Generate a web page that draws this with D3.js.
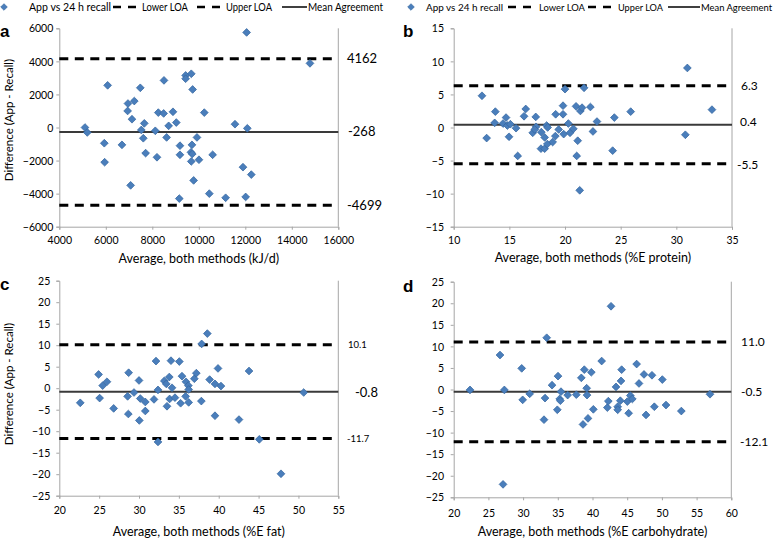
<!DOCTYPE html>
<html>
<head>
<meta charset="utf-8">
<script src="https://cdn.jsdelivr.net/npm/d3@7"></script>
<style>
  body { margin: 0; background: #fff; }
  svg { display: block; font-family: "Lato", "Open Sans", sans-serif; }
</style>
</head>
<body>
<svg id="chart" width="778" height="539"></svg>
<script>
// ---------- DATA ----------
// Panel a: energy (kJ/d)
const aX = [12057,14781,6079,7484,8502,9434,9434,9677,9735,6953,7226,6939,7126,8258,8488,8889,10236,7656,8703,9032,11556,12086,5104,5204,7527,8129,7613,8616,9921,5936,6695,9190,9706,7713,8201,9190,9663,9720,10595,5950,9677,10007,11900,12258,9778,7068,10452,9161,11154,12015];
const aY = [5750,3880,2550,2400,2850,3150,2950,3250,2300,1450,1600,1000,500,900,850,950,900,250,100,300,200,-50,0,-300,-150,-200,-650,-600,-600,-950,-1050,-1100,-1050,-1550,-1800,-1650,-1500,-1600,-1650,-2100,-2050,-1950,-2400,-2850,-3200,-3500,-4000,-4300,-4250,-4200];
const aLOA = [-4699, -268, 4162];   // lower, mean, upper
const aLabels = ["-4699", "-268", "4162"];
const aXTicks = [4000,6000,8000,10000,12000,14000,16000];
const aYTicks = [-6000,-4000,-2000,0,2000,4000,6000];

// Panel b: %E protein
const bX = [12.54,12.96,13.74,13.68,14.43,14.70,14.82,15.09,14.97,15.60,15.75,16.32,16.47,17.37,17.10,17.40,17.28,17.87,17.84,18.17,18.17,18.35,18.44,18.41,18.89,19.16,19.13,19.43,19.82,19.82,19.88,20.00,20.30,20.45,20.75,20.99,21.38,21.53,21.14,21.05,21.32,21.71,22.28,22.51,22.87,24.43,24.28,25.90,30.99,30.81,33.20];
const bY = [4.8,-1.6,2.4,0.7,0.6,1.5,0.3,0.5,-1.4,-0.1,-4.3,1.7,2.8,1.6,-0.8,0.1,-0.3,-0.7,-3.2,-3.2,-1.5,0.3,0.0,-2.5,-2.2,2.0,-1.3,-0.3,3.3,2.0,-1.0,5.8,0.6,-0.8,-0.2,3.2,2.5,3.0,-2.0,-4.3,-9.5,6.0,3.1,-0.6,0.9,1.5,-3.5,2.4,9.0,-1.1,2.7];
const bLOA = [-5.5, 0.4, 6.3];
const bLabels = ["-5.5", "0.4", "6.3"];
const bXTicks = [10,15,20,25,30,35];
const bYTicks = [-15,-10,-5,0,5,10,15];

// Panel c: %E fat
const cX = [22.63,24.93,25.06,25.44,25.98,26.82,28.70,28.57,28.66,29.37,30.00,30.16,30.04,30.79,30.79,31.88,32.13,32.38,32.38,33.17,33.42,33.80,33.51,33.84,34.01,34.14,34.51,35.06,35.39,35.22,35.89,35.85,36.19,36.23,36.23,36.94,37.19,37.82,37.86,38.57,38.86,39.53,39.53,39.91,40.28,42.54,43.80,45.09,47.81,50.66];
const cY = [-3.4,3.2,-2.3,0.6,1.5,-4.7,3.6,-1.9,-6.0,-1.0,1.8,-2.4,-7.5,-3.2,-5.3,-2.6,6.3,-0.4,-12.5,1.7,1.0,2.6,-4.2,-2.5,6.4,0.1,-2.2,6.2,2.8,-3.5,1.5,-1.9,0.6,-0.3,-3.3,2.2,3.5,-3.0,10.3,12.7,2.0,1.0,-6.4,4.6,0.5,-7.3,4.0,-11.9,-19.9,-1.0];
const cLOA = [-11.7, -0.8, 10.1];
const cLabels = ["-11.7", "-0.8", "10.1"];
const cXTicks = [20,25,30,35,40,45,50,55];
const cYTicks = [-25,-20,-15,-10,-5,0,5,10,15,20,25];

// Panel d: %E carbohydrate
const dX = [22.35,26.67,27.30,27.11,29.80,29.94,30.95,33.16,33.01,33.40,34.17,35.03,34.93,35.27,35.37,35.46,36.42,37.67,38.39,38.63,38.82,39.16,39.21,39.35,39.83,40.12,41.32,42.14,42.28,42.67,43.39,43.63,43.63,44.01,44.11,44.20,45.02,45.21,45.45,45.74,46.36,46.70,47.42,47.71,48.57,48.91,50.06,50.59,52.80,56.93];
const dY = [-0.1,8.0,-0.1,-22.0,4.9,-2.4,-1.0,-2.0,-7.0,12.0,1.0,3.1,-4.7,-2.2,-2.6,-0.5,-1.3,-1.2,2.7,-8.1,4.6,0.3,-1.3,-6.7,4.0,-4.6,6.6,-4.2,-2.7,19.3,0.6,-4.0,-4.7,-2.6,2.0,4.6,-2.8,-5.5,-1.4,-2.2,5.9,1.4,3.5,-5.9,3.3,-4.0,2.3,-3.6,-5.0,-1.1];
const dLOA = [-12.1, -0.5, 11.0];
const dLabels = ["-12.1", "-0.5", "11.0"];
const dXTicks = [20,25,30,35,40,45,50,55,60];
const dYTicks = [-25,-20,-15,-10,-5,0,5,10,15,20,25];

const legendItems = ["App vs 24 h recall", "Lower LOA", "Upper LOA", "Mean Agreement"];

// ---------- LAYOUT / STYLE ----------
const svg = d3.select("#chart");
const axisGray = "#a6a6a6";
const markerFill = "#4a7ebb";
const markerStroke = "#33659f";

const panels = [
  { id: "a", xs: aX, ys: aY, loa: aLOA, labels: aLabels, xt: aXTicks, yt: aYTicks,
    box: [59.3, 338.3, 28.3, 226.7], letter: [0, 37], yLabGap: 6,
    xTitle: "Average, both methods (kJ/d)", xTickY: 244, xTitleY: 263,
    yTitle: "Difference (App - Recall)", yTitleC: 120,
    lblX: [347, 348, 347], lblSize: [13, 13, 13], lblDy: [0, 0, 0] },
  { id: "b", xs: bX, ys: bY, loa: bLOA, labels: bLabels, xt: bXTicks, yt: bYTicks,
    box: [453.7, 732, 28.3, 226.7], letter: [403, 37], yLabGap: 9.7,
    xTitle: "Average, both methods (%E protein)", xTickY: 244, xTitleY: 262,
    yTitle: null,
    lblX: [737, 740, 741], lblSize: [12, 12, 12], lblDy: [1, -3, 0] },
  { id: "c", xs: cX, ys: cY, loa: cLOA, labels: cLabels, xt: cXTicks, yt: cYTicks,
    box: [59.3, 338.3, 280.7, 495.7], letter: [0, 290], yLabGap: 9,
    xTitle: "Average, both methods (%E fat)", xTickY: 514, xTitleY: 536,
    yTitle: "Difference  (App -  Recall)", yTitleC: 384,
    lblX: [347, 355, 348], lblSize: [9.5, 13, 9.5], lblDy: [0, 1, 0] },
  { id: "d", xs: dX, ys: dY, loa: dLOA, labels: dLabels, xt: dXTicks, yt: dYTicks,
    box: [453.7, 731.3, 281.7, 497.3], letter: [403, 292], yLabGap: 9.7,
    xTitle: "Average, both methods (%E carbohydrate)", xTickY: 517, xTitleY: 536,
    yTitle: null,
    lblX: [740, 741, 741], lblSize: [12, 12, 12], lblDy: [0, 0, 0] }
];

panels.forEach(p => {
  const [x0, x1, y0, y1] = p.box;
  const x = d3.scaleLinear().domain(d3.extent(p.xt)).range([x0, x1]);
  const y = d3.scaleLinear().domain(d3.extent(p.yt)).range([y1, y0]);
  const g = svg.append("g");

  // right border of plot area
  g.append("line").attr("x1", x1).attr("x2", x1).attr("y1", y0).attr("y2", y1)
    .attr("stroke", axisGray).attr("stroke-width", 1);

  // axes
  const xAxis = d3.axisBottom(x).tickValues(p.xt).tickSize(3).tickFormat(d3.format("d"));
  const yAxis = d3.axisLeft(y).tickValues(p.yt).tickSize(3).tickFormat(d3.format("d"));
  const gx = g.append("g").attr("transform", `translate(0,${y1})`).call(xAxis);
  const gy = g.append("g").attr("transform", `translate(${x0},0)`).call(yAxis);
  [gx, gy].forEach(ax => {
    ax.select(".domain").attr("stroke", axisGray);
    ax.selectAll(".tick line").attr("stroke", axisGray);
    ax.selectAll(".tick text").attr("fill", "#000").attr("font-size", 10.5)
      .attr("font-family", "Lato, 'Open Sans', sans-serif");
  });
  gx.selectAll(".tick text").attr("y", null).attr("dy", null)
    .attr("transform", `translate(0,${p.xTickY - y1})`);
  gy.selectAll(".tick text").attr("x", -p.yLabGap).attr("dy", "0.35em");

  // LOA lines
  const loaG = g.append("g");
  [0, 2].forEach(i => {
    loaG.append("line")
      .attr("x1", x0).attr("x2", x1)
      .attr("y1", y(p.loa[i])).attr("y2", y(p.loa[i]))
      .attr("stroke", "#000").attr("stroke-width", 3)
      .attr("stroke-dasharray", "9,6.5");
  });
  loaG.append("line")
    .attr("x1", x0).attr("x2", x1)
    .attr("y1", y(p.loa[1])).attr("y2", y(p.loa[1]))
    .attr("stroke", "#3a3a3a").attr("stroke-width", 2);

  // points
  const pts = p.xs.map((v, i) => [v, p.ys[i]]);
  g.append("g").selectAll("path").data(pts).join("path")
    .attr("d", d3.symbol(d3.symbolSquare, 30))
    .attr("transform", d => `translate(${x(d[0])},${y(d[1])}) rotate(45)`)
    .attr("fill", markerFill).attr("stroke", markerStroke).attr("stroke-width", 0.7);

  // right value labels
  p.loa.forEach((v, i) => {
    g.append("text").attr("x", p.lblX[i]).attr("y", y(v) + p.lblDy[i])
      .attr("dy", "0.35em").attr("font-size", p.lblSize[i])
      .attr("fill", "#000").text(p.labels[i]);
  });

  // axis titles
  g.append("text").attr("x", (x0 + x1) / 2).attr("y", p.xTitleY)
    .attr("text-anchor", "middle").attr("font-size", 12.5).attr("fill", "#000")
    .text(p.xTitle);
  if (p.yTitle) {
    g.append("text").attr("transform", `translate(12.5,${p.yTitleC}) rotate(-90)`)
      .attr("text-anchor", "middle").attr("font-size", 11.5).attr("fill", "#000")
      .text(p.yTitle);
  }

  // panel letter
  g.append("text").attr("x", p.letter[0]).attr("y", p.letter[1])
    .attr("font-family", "'Liberation Sans', Arial, sans-serif")
    .attr("font-weight", "bold").attr("font-size", 17).attr("fill", "#000")
    .text(p.id);
});

// ---------- LEGENDS ----------
// offsets relative to the legend's diamond centre; w = text widths
function drawLegend(ox, pos) {
  const lg = svg.append("g").attr("transform", `translate(${ox},7)`);
  lg.append("path").attr("d", d3.symbol(d3.symbolSquare, 22))
    .attr("transform", "rotate(45)")
    .attr("fill", markerFill).attr("stroke", markerStroke).attr("stroke-width", 0.6);
  const txt = (xx, s, w) => lg.append("text").attr("x", xx).attr("y", 0).attr("dy", "0.35em")
    .attr("font-size", pos.fs).attr("fill", "#000")
    .attr("textLength", w).attr("lengthAdjust", "spacingAndGlyphs").text(s);
  txt(pos.t0, legendItems[0], pos.w[0]);
  lg.append("line").attr("x1", pos.d1[0]).attr("x2", pos.d1[1]).attr("y1", 0).attr("y2", 0)
    .attr("stroke", "#000").attr("stroke-width", 2.5).attr("stroke-dasharray", "8,7");
  txt(pos.t1, legendItems[1], pos.w[1]);
  lg.append("line").attr("x1", pos.d2[0]).attr("x2", pos.d2[1]).attr("y1", 0).attr("y2", 0)
    .attr("stroke", "#000").attr("stroke-width", 2.5).attr("stroke-dasharray", "8,7");
  txt(pos.t2, legendItems[2], pos.w[2]);
  lg.append("line").attr("x1", pos.s[0]).attr("x2", pos.s[1]).attr("y1", 0).attr("y2", 0)
    .attr("stroke", "#000").attr("stroke-width", 1.5);
  txt(pos.t3, legendItems[3], pos.w[3]);
}
drawLegend(4, { fs: 11, t0: 25, d1: [109, 133], t1: 138, d2: [193, 218], t2: 222, s: [278, 303], t3: 304,
  w: [82, 46, 46, 75] });
drawLegend(411, { fs: 10, t0: 15, d1: [97, 122], t1: 128, d2: [177, 204], t2: 207, s: [257, 289], t3: 290,
  w: [77, 46, 45, 71] });
</script>
</body>
</html>
